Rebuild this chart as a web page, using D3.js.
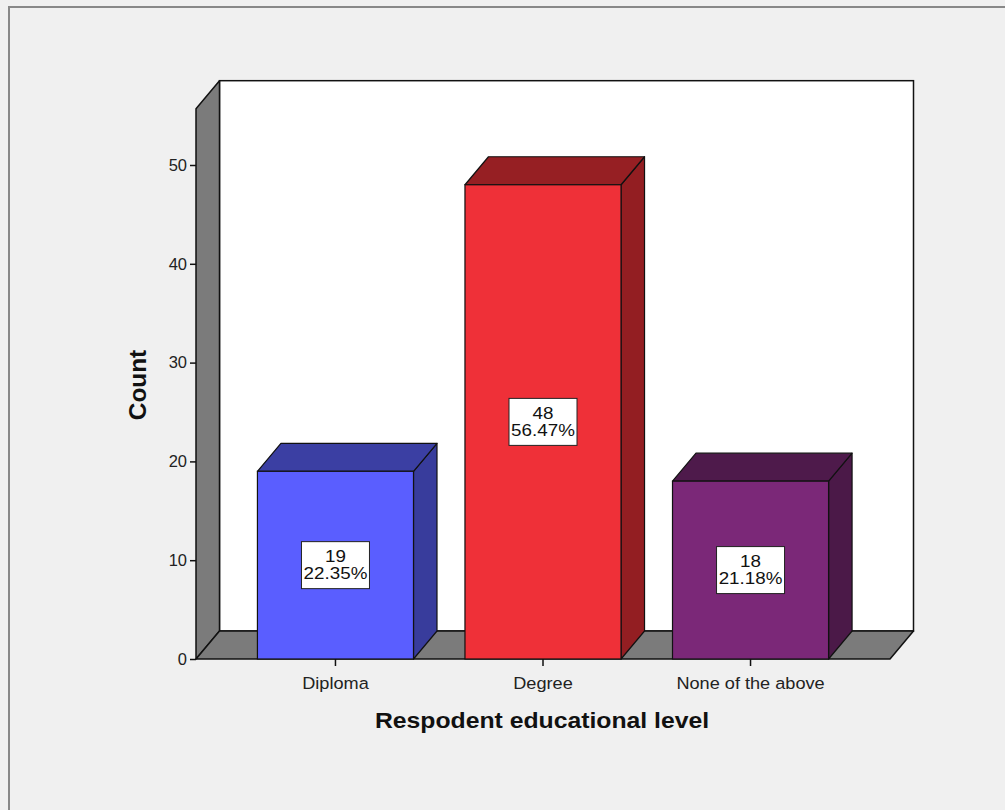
<!DOCTYPE html>
<html><head><meta charset="utf-8">
<script src="https://cdn.jsdelivr.net/npm/d3@7"></script>
<style>html,body{margin:0;padding:0;background:#f0f0f0;}svg{display:block;}</style>
</head><body>
<script>
const categories = ["Diploma", "Degree", "None of the above"];
const counts = [19, 48, 18];
const percents = ["22.35%", "56.47%", "21.18%"];
const yTicks = [0, 10, 20, 30, 40, 50];
const frontColors = ["#5a5eff", "#ef3038", "#7b2878"];
const sideColors = ["#383c9c", "#931e22", "#4b1948"];
const topColors = ["#3b3fa3", "#961f23", "#4e1a4b"];

const W = 1005, H = 810;
const FONT = "Liberation Sans, Arial, sans-serif";
const svg = d3.select("body").append("svg").attr("width", W).attr("height", H);
svg.append("rect").attr("width", W).attr("height", H).attr("fill", "#f0f0f0");
// outer frame
svg.append("path").attr("d", `M9,${H+5}V7H${W+5}`).attr("fill", "none").attr("stroke", "#888").attr("stroke-width", 2);

const x0 = 196, x1 = 890, yBase = 659;
const dx = 23.5, dy = -28;
const y = d3.scaleLinear().domain([0, 50]).range([yBase, 165]);
const yTop = 55.7;
const x = d3.scaleBand().domain(categories).range([x0, x1]).paddingInner(0.248).paddingOuter(0.296);

const g = svg.append("g");
const stroke = "#111";
// back wall
g.append("rect").attr("x", x0 + dx).attr("y", y(yTop) + dy).attr("width", x1 - x0).attr("height", yBase - y(yTop))
  .attr("fill", "#fff").attr("stroke", stroke).attr("stroke-width", 1.5);
// left wall
g.append("polygon").attr("points", [[x0, y(yTop)], [x0 + dx, y(yTop) + dy], [x0 + dx, yBase + dy], [x0, yBase]].join(" "))
  .attr("fill", "#7b7b7b").attr("stroke", stroke).attr("stroke-width", 1.5).attr("stroke-linejoin", "round");
// floor
g.append("polygon").attr("points", [[x0, yBase], [x0 + dx, yBase + dy], [x1 + dx, yBase + dy], [x1, yBase]].join(" "))
  .attr("fill", "#7b7b7b").attr("stroke", stroke).attr("stroke-width", 1.5).attr("stroke-linejoin", "round");

// bars
categories.forEach((c, i) => {
  const bx = x(c), bw = x.bandwidth(), by = y(counts[i]);
  const bg = g.append("g");
  bg.append("polygon").attr("points", [[bx + bw, by], [bx + bw + dx, by + dy], [bx + bw + dx, yBase + dy], [bx + bw, yBase]].join(" "))
    .attr("fill", sideColors[i]).attr("stroke", stroke).attr("stroke-width", 1.2).attr("stroke-linejoin", "round");
  bg.append("polygon").attr("points", [[bx, by], [bx + dx, by + dy], [bx + bw + dx, by + dy], [bx + bw, by]].join(" "))
    .attr("fill", topColors[i]).attr("stroke", stroke).attr("stroke-width", 1.2).attr("stroke-linejoin", "round");
  bg.append("rect").attr("x", bx).attr("y", by).attr("width", bw).attr("height", yBase - by)
    .attr("fill", frontColors[i]).attr("stroke", stroke).attr("stroke-width", 1.2);
  const cx = bx + bw / 2, cy = (by + yBase) / 2;
  bg.append("rect").attr("x", cx - 34).attr("y", cy - 23.5).attr("width", 68).attr("height", 47)
    .attr("fill", "#fff").attr("stroke", "#222").attr("stroke-width", 1);
  const t = bg.append("text").attr("transform", `translate(${cx},${cy}) scale(1.14,1)`)
    .attr("text-anchor", "middle").attr("font-family", FONT).attr("font-size", 16.5).attr("fill", "#111");
  t.append("tspan").attr("x", 0).attr("y", -3).text(counts[i]);
  t.append("tspan").attr("x", 0).attr("y", 14).text(percents[i]);
});

// y axis
const ya = svg.append("g").attr("transform", `translate(${x0},0)`)
  .call(d3.axisLeft(y).tickValues(yTicks).tickSize(6).tickPadding(3));
ya.select(".domain").remove();
ya.selectAll("line").attr("stroke", "#111").attr("stroke-width", 1.5);
ya.selectAll("text").attr("font-family", FONT).attr("font-size", 16.5).attr("fill", "#222");

// x axis
const xa = svg.append("g").attr("transform", `translate(0,${yBase})`)
  .call(d3.axisBottom(x).tickSize(7).tickPadding(11));
xa.select(".domain").remove();
xa.selectAll("line").attr("stroke", "#111").attr("stroke-width", 1.5);
xa.selectAll("text").attr("font-family", FONT).attr("font-size", 16.5).attr("fill", "#222")
  .attr("transform", "scale(1.1,1)");

// titles
svg.append("text").attr("transform", "translate(542,728) scale(1.126,1)").attr("text-anchor", "middle")
  .attr("font-family", FONT).attr("font-weight", "bold").attr("font-size", 22).attr("fill", "#111")
  .text("Respodent educational level");
svg.append("text").attr("transform", "translate(146,385) rotate(-90)").attr("text-anchor", "middle")
  .attr("font-family", FONT).attr("font-weight", "bold").attr("font-size", 24.4).attr("fill", "#111")
  .text("Count");
</script>
</body></html>
